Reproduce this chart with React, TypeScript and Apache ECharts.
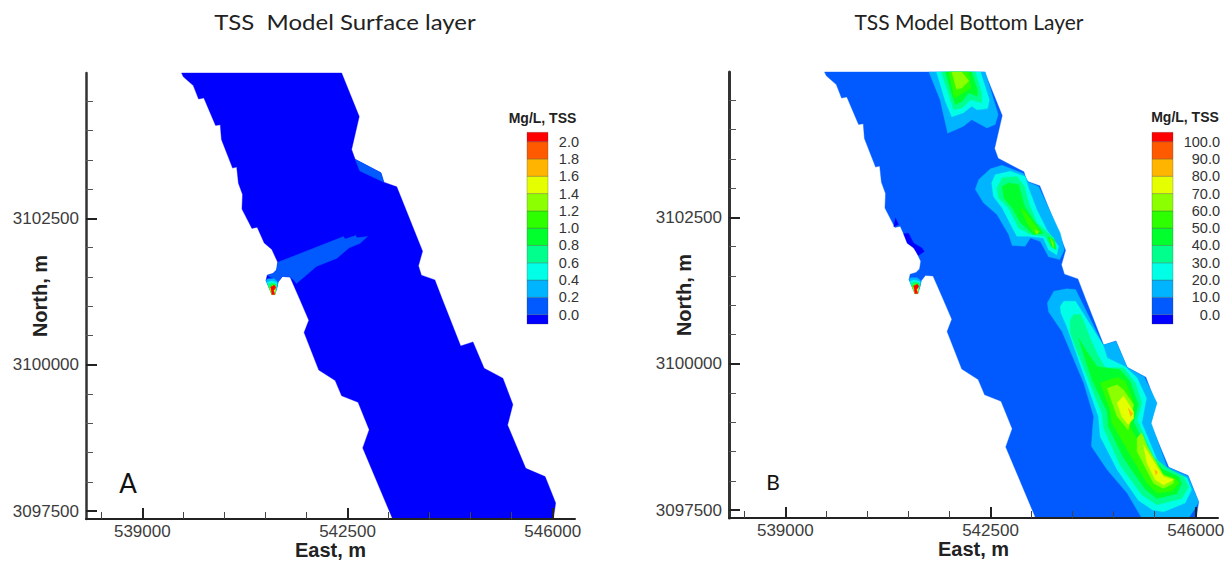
import React, { useEffect, useRef } from "react";
import * as echarts from "echarts";

type Pt = [number, number];

const X_MIN = 538040, X_MAX = 546380, Y_MIN = 3097365, Y_MAX = 3104985;
const xMajor = [539000, 542500, 546000];
const xMinor = [538300, 539700, 540400, 541100, 541800, 543200, 543900, 544600, 545300];
const yMajor = [3097500, 3100000, 3102500];
const yMinor = [3098000, 3098500, 3099000, 3099500, 3100500, 3101000, 3101500, 3102000, 3103000, 3103500, 3104000, 3104500];

const surfaceLevels = [0, 0.2, 0.4, 0.6, 0.8, 1.0, 1.2, 1.4, 1.6, 1.8, 2.0];
const bottomLevels = [0, 10, 20, 30, 40, 50, 60, 70, 80, 90, 100];
const bandColors = ["#0000ff", "#005aff", "#00b4ff", "#00ffe6", "#00ff8c", "#00ff2d", "#2dff00", "#8cff00", "#e6ff00", "#ffb400", "#ff5a00", "#ff0000"];
const [DK, BL, SK, CY, SP, G2, G3, YG, YE, AM] = bandColors;

const domainOutline: Pt[] = [
  [539670, Y_MAX], [539700, 3104920], [539870, 3104770], [539960, 3104540], [540050, 3104560], [540250, 3104090], [540330, 3104100],
  [540350, 3103850], [540540, 3103360], [540610, 3103380], [540640, 3103100], [540710, 3102910], [540700, 3102660], [540870, 3102330],
  [540960, 3102350], [541080, 3102080], [541210, 3101970], [541310, 3101750], [541290, 3101620], [541230, 3101560], [541130, 3101530],
  [541110, 3101440], [541200, 3101230], [541210, 3101200], [541260, 3101200], [541300, 3101330], [541320, 3101420], [541390, 3101510],
  [541520, 3101500], [541690, 3101110], [541840, 3100760], [541760, 3100550], [542010, 3099910], [542290, 3099730], [542400, 3099470],
  [542680, 3099360], [542870, 3098890], [542760, 3098580], [543270, Y_MIN], [546010, Y_MIN], [546050, 3097640], [545870, 3098090],
  [545540, 3098230], [545230, 3098970], [545320, 3099320], [545150, 3099770], [544830, 3099940], [544640, 3100390], [544430, 3100320],
  [544120, 3101110], [543990, 3101450], [543760, 3101530], [543710, 3101690], [543780, 3101940], [543340, 3103040], [543120, 3103120],
  [543070, 3103280], [542630, 3103510], [542570, 3103680], [542700, 3104240], [542400, Y_MAX],
];

const surfacePlume: Pt[] = [
  [541310, 3101750], [542430, 3102190], [542460, 3102150], [542640, 3102210], [542660, 3102170], [542840, 3102190], [542710, 3102070],
  [542530, 3102000], [542320, 3101820], [541970, 3101680], [541630, 3101390], [541580, 3101450], [541520, 3101500], [541390, 3101510],
  [541320, 3101420], [541230, 3101470], [541130, 3101530], [541230, 3101560], [541290, 3101620],
];
const surfaceNorthPatch: Pt[] = [[542630, 3103510], [543070, 3103280], [543120, 3103120], [542710, 3103310]];

const tipSky: Pt[] = [[541110, 3101440], [541140, 3101470], [541250, 3101470], [541310, 3101420], [541300, 3101330], [541260, 3101200], [541210, 3101200], [541200, 3101230]];
const tipCyan: Pt[] = [[541130, 3101410], [541210, 3101430], [541300, 3101400], [541290, 3101330], [541260, 3101200], [541210, 3101200]];
const tipSpring: Pt[] = [[541140, 3101380], [541210, 3101400], [541290, 3101380], [541280, 3101320], [541260, 3101200], [541210, 3101200]];
const tipGreen: Pt[] = [[541160, 3101330], [541230, 3101380], [541280, 3101360], [541270, 3101300], [541260, 3101200], [541210, 3101200]];
const tipYellow: Pt[] = [[541180, 3101300], [541220, 3101350], [541270, 3101330], [541260, 3101200], [541210, 3101200]];
const tipRed: Pt[] = [[541190, 3101330], [541250, 3101360], [541280, 3101320], [541240, 3101270], [541260, 3101200], [541210, 3101200]];

const coastPatchA: Pt[] = [[540880, 3102490], [540930, 3102380], [540850, 3102340]];
const coastPatchB: Pt[] = [[541020, 3102220], [541100, 3102230], [541190, 3102060], [541330, 3101980], [541370, 3101920], [541270, 3101850], [541190, 3101980], [541080, 3102060]];

const north10: Pt[] = [[541450, Y_MAX], [541640, 3104510], [541770, 3103940], [542040, 3104060], [542180, 3104170], [542440, 3104030], [542580, 3104090], [542630, 3104260], [542410, Y_MAX]];
const north20: Pt[] = [[541580, Y_MAX], [541730, 3104480], [541840, 3104220], [542040, 3104290], [542180, 3104400], [542270, 3104340], [542450, 3104360], [542480, 3104510], [542330, Y_MAX]];
const north30: Pt[] = [[541660, Y_MAX], [541790, 3104600], [541870, 3104340], [542010, 3104370], [542160, 3104510], [542350, 3104460], [542350, 3104630], [542240, Y_MAX]];
const north40: Pt[] = [[541730, Y_MAX], [541830, 3104630], [541900, 3104430], [542010, 3104480], [542130, 3104630], [542270, 3104570], [542280, 3104660], [542180, Y_MAX]];
const north50: Pt[] = [[541790, Y_MAX], [541880, 3104540], [542040, 3104630], [542160, 3104710], [542130, Y_MAX]];
const north60: Pt[] = [[541840, Y_MAX], [541920, 3104690], [542010, 3104710], [542130, 3104830], [542010, Y_MAX]];

const mid10: Pt[] = [[542240, 3102980], [542300, 3103150], [542500, 3103330], [542700, 3103390], [543060, 3103250], [543150, 3103100], [543320, 3103030], [543690, 3102230], [543760, 3101950], [543680, 3101780], [543490, 3101830], [543350, 3102090], [543180, 3102150], [543090, 3102010], [542870, 3102020], [542810, 3102210], [542610, 3102550], [542380, 3102750]];
const mid20: Pt[] = [[542520, 3103090], [542580, 3103230], [542840, 3103290], [543090, 3103200], [543150, 3103000], [543290, 3102630], [543460, 3102290], [543660, 3102010], [543630, 3101860], [543490, 3101950], [543400, 3102150], [543150, 3102180], [542950, 3102180], [542890, 3102290], [542700, 3102660], [542550, 3102860]];
const mid30: Pt[] = [[542610, 3103000], [542700, 3103180], [542950, 3103200], [543080, 3103030], [543150, 3102750], [543290, 3102410], [543580, 3102150], [543620, 3101950], [543520, 3102010], [543430, 3102180], [543180, 3102210], [542980, 3102320], [542810, 3102660], [542640, 3102830]];
const mid40: Pt[] = [[542700, 3103030], [542810, 3103090], [542980, 3103060], [543080, 3102690], [543230, 3102460], [543400, 3102230], [543230, 3102210], [543010, 3102410], [542870, 3102660], [542730, 3102830]];
const midTail40: Pt[] = [[543480, 3102170], [543590, 3102120], [543620, 3101950], [543540, 3102000]];
const mid50: Pt[] = [[543010, 3102660], [543090, 3102600], [543230, 3102410], [543350, 3102260], [543260, 3102210], [543120, 3102410]];
const mid60: Pt[] = [[543260, 3102290], [543320, 3102260], [543290, 3102210]];
const midTail60: Pt[] = [[543520, 3102150], [543570, 3102070], [543570, 3101980]];

const south10: Pt[] = [[543470, 3101040], [543580, 3101240], [543800, 3101280], [543950, 3101270], [544420, 3100320], [544640, 3100380], [544830, 3099940], [545120, 3099780], [545340, 3099330], [545240, 3098990], [545510, 3098240], [545870, 3098080], [546050, 3097640], [545990, 3097530], [545880, Y_MIN], [545080, Y_MIN], [544830, 3097790], [544490, 3098190], [544220, 3098590], [544240, 3098900], [544260, 3099100], [544090, 3099670], [543720, 3100550], [543490, 3100890]];
const south20: Pt[] = [[543690, 3100980], [543750, 3101070], [543950, 3101070], [544420, 3100320], [544490, 3100100], [544800, 3099950], [545000, 3099760], [545160, 3099410], [545080, 3098990], [545390, 3098240], [545540, 3098190], [545850, 3098050], [545930, 3097850], [545820, 3097620], [545450, 3097470], [545270, 3097500], [545020, 3097670], [544660, 3098190], [544370, 3098760], [544340, 3099100], [544200, 3099500], [543800, 3100640], [543700, 3100870]];
const south30: Pt[] = [[543860, 3100750], [543920, 3100840], [544040, 3100840], [544200, 3100440], [544330, 3100150], [544460, 3099930], [544770, 3099930], [544970, 3099670], [545080, 3099330], [545000, 3099040], [545280, 3098410], [545510, 3098220], [545790, 3098070], [545880, 3097900], [545760, 3097700], [545340, 3097590], [545080, 3097760], [544710, 3098270], [544430, 3098900], [544400, 3099160], [544260, 3099500], [543970, 3100240], [543860, 3100530]];
const south40: Pt[] = [[544000, 3100440], [544120, 3100240], [544320, 3099950], [544710, 3099900], [544880, 3099700], [545020, 3099300], [544940, 3099010], [545220, 3098410], [545450, 3098190], [545710, 3098070], [545760, 3097960], [545680, 3097780], [545340, 3097700], [545140, 3097850], [544770, 3098390], [544510, 3098930], [544490, 3099180], [544230, 3099730]];
const south50: Pt[] = [[544370, 3099670], [544660, 3099770], [544800, 3099700], [544950, 3099300], [544880, 3098930], [545140, 3098440], [545390, 3098130], [545650, 3098050], [545710, 3097960], [545590, 3097820], [545340, 3097790], [545170, 3097960], [544850, 3098500], [544570, 3098990], [544540, 3099210]];
const south60A: Pt[] = [[544490, 3099580], [544660, 3099640], [544770, 3099550], [544940, 3099300], [544850, 3098870], [544660, 3099100], [544570, 3099350]];
const south60B: Pt[] = [[545000, 3098730], [545080, 3098820], [545170, 3098590], [545450, 3098100], [545620, 3098030], [545620, 3097960], [545450, 3097870], [545280, 3097960], [545000, 3098500]];
const south70A: Pt[] = [[544660, 3099330], [544770, 3099450], [544940, 3099180], [544940, 3099070], [544850, 3098960], [544740, 3099100]];
const south70B: Pt[] = [[545110, 3098610], [545340, 3098240], [545450, 3098070], [545620, 3098020], [545450, 3097930], [545310, 3098020], [545170, 3098300]];
const south80A: Pt[] = [[544850, 3099240], [544930, 3099150], [544890, 3099100]];
const south80B: Pt[] = [[545300, 3098190], [545350, 3098150], [545320, 3098100]];

const tipLayers: [Pt[], string][] = [[tipSky, SK], [tipCyan, CY], [tipSpring, SP], [tipGreen, G3], [tipYellow, YE], [tipRed, "#ff0000"]];

const surfaceLayers: [Pt[], string][] = [[domainOutline, DK], [surfacePlume, BL], [surfaceNorthPatch, BL], ...tipLayers];
const bottomLayers: [Pt[], string][] = [
  [domainOutline, BL], [coastPatchA, DK], [coastPatchB, DK],
  [north10, SK], [north20, CY], [north30, SP], [north40, G2], [north50, G3], [north60, YG],
  [mid10, SK], [mid20, CY], [mid30, SP], [mid40, G2], [midTail40, G2], [mid50, G3], [mid60, YG], [midTail60, YG],
  [south10, SK], [south20, CY], [south30, SP], [south40, G2], [south50, G3], [south60A, YG], [south60B, YG], [south70A, YE], [south70B, YE], [south80A, AM], [south80B, AM],
  ...tipLayers,
];

const SANS = "'Liberation Sans', Arial, sans-serif";
const TITLE_FONT = "Lato, sans-serif";

function polygonSeries(layers: [Pt[], string][], axisIndex: number) {
  return {
    type: "custom", coordinateSystem: "cartesian2d", xAxisIndex: axisIndex, yAxisIndex: axisIndex, silent: true, z: 2,
    data: layers.map(([pts]) => pts[0]),
    renderItem: (params: any, api: any) => {
      const [pts, fill] = layers[params.dataIndex];
      return { type: "polygon", shape: { points: pts.map((p) => api.coord(p)) }, style: { fill, stroke: fill, lineWidth: 0.4 } };
    },
  };
}

function legendSeries(levels: number[], axisIndex: number, lo: number, hi: number) {
  const edges = [lo, ...levels, hi];
  return {
    type: "custom", coordinateSystem: "cartesian2d", xAxisIndex: axisIndex, yAxisIndex: axisIndex, silent: true, z: 2,
    data: bandColors.map((_, i) => [0, edges[i]]),
    renderItem: (params: any, api: any) => {
      const i = params.dataIndex;
      const a = api.coord([0, edges[i]]);
      const b = api.coord([1, edges[i + 1]]);
      return { type: "rect", shape: { x: a[0], y: b[1], width: b[0] - a[0], height: a[1] - b[1] }, style: { fill: bandColors[i], stroke: "rgba(60,60,60,0.28)", lineWidth: 1 } };
    },
  };
}

function panelAxes(gridIndex: number, yLine: number, yNameGap: number) {
  const label = { fontFamily: SANS, fontSize: 17, color: "#3c3c3c", formatter: (v: number) => String(v) };
  const xAxes = [
    {
      type: "value", gridIndex, min: X_MIN, max: X_MAX, z: 10, position: "bottom", splitLine: { show: false },
      axisLine: { show: true, onZero: false, lineStyle: { color: "#222", width: 2 } },
      axisTick: { show: true, inside: true, length: 11, customValues: xMajor, lineStyle: { color: "#222", width: 2 } },
      axisLabel: { ...label, show: true, margin: 4, customValues: xMajor },
      name: "East, m", nameLocation: "middle", nameGap: 21, nameMoveOverlap: false,
      nameTextStyle: { fontFamily: SANS, fontWeight: "bold", fontSize: 20, color: "#222" },
    },
    {
      type: "value", gridIndex, min: X_MIN, max: X_MAX, z: 10, position: "bottom", splitLine: { show: false },
      axisLine: { show: false }, axisLabel: { show: false },
      axisTick: { show: true, inside: true, length: 7, customValues: xMinor, lineStyle: { color: "#444", width: 1 } },
    },
  ];
  const yAxes = [
    {
      type: "value", gridIndex, min: Y_MIN, max: Y_MAX, z: 10, position: "left", splitLine: { show: false },
      axisLine: { show: true, onZero: false, lineStyle: { color: "#333", width: yLine } },
      axisTick: { show: true, inside: true, length: 11, customValues: yMajor, lineStyle: { color: "#222", width: 2 } },
      axisLabel: { ...label, show: true, margin: 7, customValues: yMajor },
      name: "North, m", nameLocation: "middle", nameGap: yNameGap, nameMoveOverlap: false,
      nameTextStyle: { fontFamily: SANS, fontWeight: "bold", fontSize: 20, color: "#222" },
    },
    {
      type: "value", gridIndex, min: Y_MIN, max: Y_MAX, z: 10, position: "left", splitLine: { show: false },
      axisLine: { show: false }, axisLabel: { show: false },
      axisTick: { show: true, inside: true, length: 7, customValues: yMinor, lineStyle: { color: "#555", width: 1 } },
    },
  ];
  return { xAxes, yAxes };
}

function legendAxes(gridIndex: number, levels: number[], lo: number, hi: number, digits: number) {
  return {
    x: { type: "value", gridIndex, min: 0, max: 1, show: false },
    y: {
      type: "value", gridIndex, min: lo, max: hi, position: "right", splitLine: { show: false },
      axisLine: { show: false }, axisTick: { show: false },
      axisLabel: {
        show: true, align: "right", margin: gridIndex === 3 ? 47 : 31, customValues: levels, fontFamily: SANS, fontSize: 14.5, color: "#333",
        padding: [6, 0, 0, 0], formatter: (v: number) => v.toFixed(digits),
      },
    },
  };
}

export default function App() {
  const ref = useRef<HTMLDivElement>(null);
  useEffect(() => {
    document.body.style.margin = "0";
    const chart = echarts.init(ref.current!, undefined, { renderer: "svg" });
    const a = panelAxes(0, 2.5, 36);
    const b = panelAxes(1, 3, 35);
    const la = legendAxes(2, surfaceLevels, -0.108, 2.108, 1);
    const lb = legendAxes(3, bottomLevels, -5.4, 105.4, 1);
    chart.setOption({
      animation: false,
      backgroundColor: "#fff",
      grid: [
        { left: 86, top: 73, width: 489, height: 446, outerBoundsMode: "none", containLabel: false },
        { left: 729, top: 72, width: 489, height: 446, outerBoundsMode: "none", containLabel: false },
        { left: 527, top: 132.3, width: 21, height: 191.7, outerBoundsMode: "none", containLabel: false },
        { left: 1152, top: 132.3, width: 21, height: 191.7, outerBoundsMode: "none", containLabel: false },
      ],
      xAxis: [...a.xAxes, ...b.xAxes, la.x, lb.x],
      yAxis: [...a.yAxes, ...b.yAxes, la.y, lb.y],
      series: [
        polygonSeries(surfaceLayers, 0),
        polygonSeries(bottomLayers, 2),
        legendSeries(surfaceLevels, 4, -0.108, 2.108),
        legendSeries(bottomLevels, 5, -5.4, 105.4),
      ],
      graphic: [
        { type: "text", x: 345, y: 21, scaleX: 1.09, style: { text: "TSS  Model Surface layer", font: `22px ${TITLE_FONT}`, fill: "#222", textAlign: "center", textVerticalAlign: "middle" } },
        { type: "text", x: 969, y: 21, style: { text: "TSS Model Bottom Layer", font: `21px ${TITLE_FONT}`, fill: "#222", textAlign: "center", textVerticalAlign: "middle" } },
        { type: "text", x: 128, y: 483, style: { text: "A", font: `26px ${TITLE_FONT}`, fill: "#111", textAlign: "center", textVerticalAlign: "middle" } },
        { type: "text", x: 773, y: 481, style: { text: "B", font: `21px ${TITLE_FONT}`, fill: "#111", textAlign: "center", textVerticalAlign: "middle" } },
        { type: "text", x: 542.5, y: 118, style: { text: "Mg/L, TSS", font: `bold 14px ${SANS}`, fill: "#222", textAlign: "center", textVerticalAlign: "middle" } },
        { type: "text", x: 1185, y: 117, style: { text: "Mg/L, TSS", font: `bold 14px ${SANS}`, fill: "#222", textAlign: "center", textVerticalAlign: "middle" } },
      ],
    });
    return () => chart.dispose();
  }, []);
  return <div ref={ref} style={{ width: 1231, height: 562, position: "absolute", left: 0, top: 0, background: "#fff" }} />;
}
